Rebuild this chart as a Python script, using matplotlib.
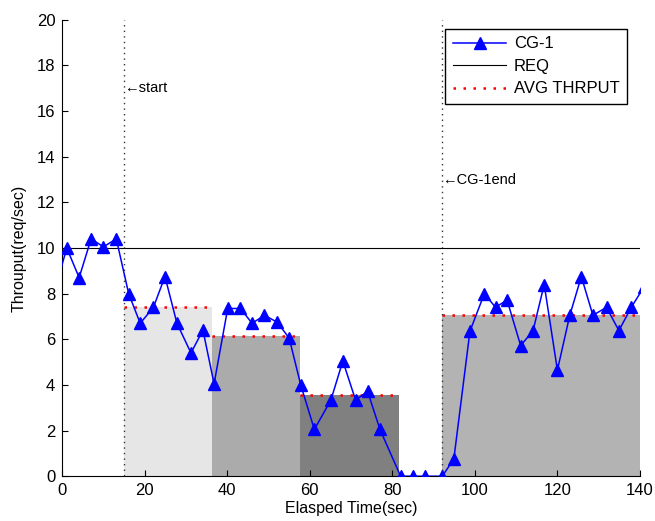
import matplotlib.pyplot as plt

plt.rcParams['font.family'] = ['Liberation Sans', 'DejaVu Sans']

# CG-1 throughput samples
time_sec = [-2, 1.1, 4.1, 7.0, 10.0, 13.1, 16.1, 18.9, 22.1, 24.9, 27.8, 31.2, 34.1,
            36.8, 40.1, 43.2, 46.0, 49.0, 52.1, 55.0, 57.8, 61.1, 65.1, 68.0, 71.1,
            74.0, 77.0, 82.0, 84.9, 87.9, 92.1, 94.9, 98.8, 102.3, 105.0, 107.8,
            111.1, 114.1, 116.8, 120.0, 123.0, 125.8, 128.6, 131.9, 134.9, 137.9, 141]
throughput = [8.0, 10.0, 8.7, 10.4, 10.05, 10.4, 8.0, 6.7, 7.4, 8.75, 6.7, 5.4, 6.4,
              4.05, 7.35, 7.35, 6.7, 7.05, 6.75, 6.05, 4.0, 2.05, 3.33, 5.05, 3.33,
              3.72, 2.05, 0, 0, 0, 0, 0.75, 6.35, 8.0, 7.4, 7.72, 5.72, 6.38, 8.4,
              4.65, 7.05, 8.75, 7.05, 7.4, 6.38, 7.4, 8.3]

required = 10

# averaging windows: start, end, mean throughput, shade
win_start = [15, 36.3, 57.6, 92]
win_end = [36.3, 57.6, 81.5, 140]
win_avg = [7.4, 6.15, 3.55, 7.05]
win_color = ['#e6e6e6', '#ababab', '#808080', '#b3b3b3']

start_t = 15
end_t = 92

fig = plt.figure(figsize=(6.55, 5.21), dpi=100)
ax = fig.add_axes([0.095, 0.086, 0.882, 0.876])

for s, e, a, c in zip(win_start, win_end, win_avg, win_color):
    ax.fill_between([s, e], 0, a, color=c, linewidth=0, zorder=1)
for i, (s, e, a) in enumerate(zip(win_start, win_end, win_avg)):
    ax.plot([s, e], [a, a], color='red', linestyle=(0, (1, 3)), linewidth=1.8,
            zorder=2, label='AVG THRPUT' if i == 0 else None)

ax.axvline(start_t, color='#333333', linestyle=(0, (1, 3)), linewidth=1, zorder=2)
ax.axvline(end_t, color='#333333', linestyle=(0, (1, 3)), linewidth=1, zorder=2)

ln_req = ax.axhline(required, color='black', linewidth=0.8, zorder=3, label='REQ')
ln_cg, = ax.plot(time_sec, throughput, color='#0000ff', linewidth=1.1, marker='^',
                 markersize=9, zorder=4, label='CG-1')

ax.text(start_t, 17, '\u2190start', fontsize=10.5, va='center', ha='left')
ax.text(end_t, 13, '\u2190CG-1end', fontsize=10.5, va='center', ha='left')

ax.set_xlim(0, 140)
ax.set_ylim(0, 20)
ax.set_xticks(range(0, 141, 20))
ax.set_yticks(range(0, 21, 2))
ax.tick_params(direction='in', labelsize=12, length=4, pad=5)
ax.spines['top'].set_visible(False)
ax.spines['right'].set_visible(False)
ax.set_xlabel('Elasped Time(sec)', fontsize=11.5, labelpad=2)
ax.set_ylabel('Throuput(req/sec)', fontsize=11.5, labelpad=7)

handles, labels = ax.get_legend_handles_labels()
order = [labels.index(n) for n in ['CG-1', 'REQ', 'AVG THRPUT']]
leg = ax.legend([handles[i] for i in order], [labels[i] for i in order],
                loc='upper right', bbox_to_anchor=(0.9775, 0.98), borderaxespad=0,
                fontsize=12, fancybox=False, framealpha=1, edgecolor='black',
                handlelength=3.2, handletextpad=0.45, borderpad=0.45,
                labelspacing=0.45)
leg.get_frame().set_linewidth(1.0)

fig.savefig('out.png', dpi=100)
